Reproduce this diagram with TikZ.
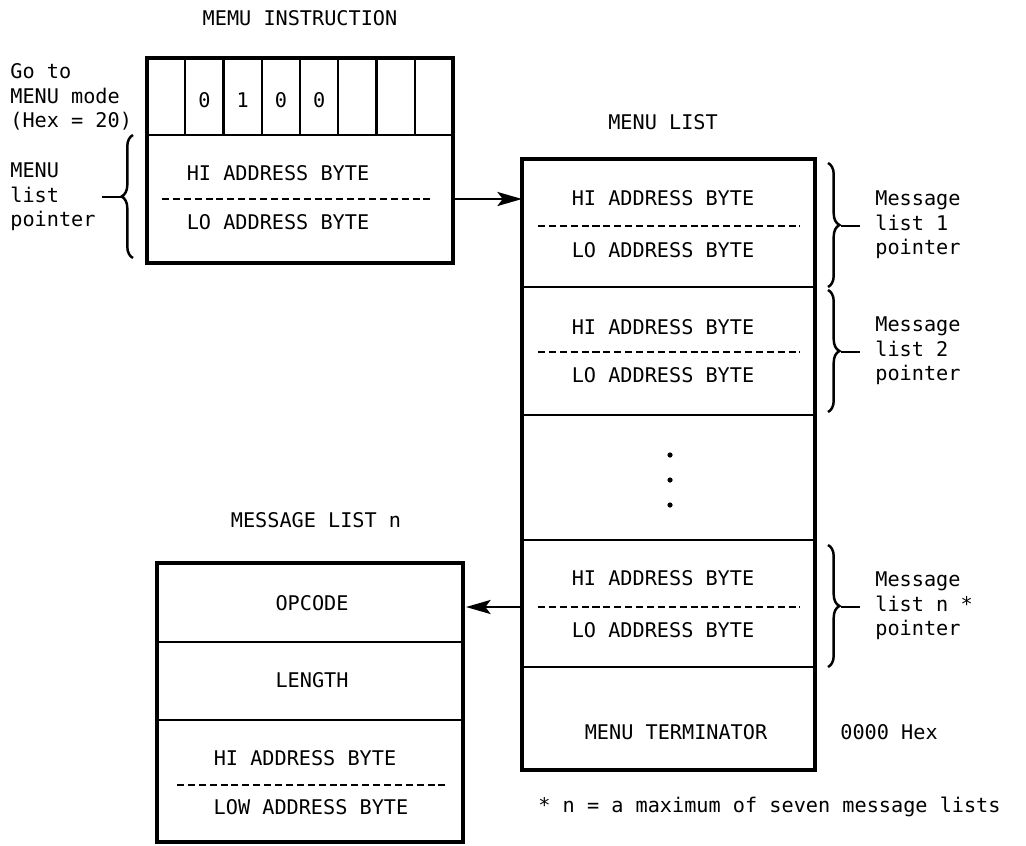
\documentclass[tikz,border=0pt]{standalone}
\usepackage{fontspec}
\setmainfont{DejaVu Sans Mono}
\usetikzlibrary{decorations.pathreplacing, arrows.meta}

\begin{document}
\begin{tikzpicture}[x=0.02cm, y=-0.02cm, >={Stealth[length=14pt, width=8pt, inset=3pt]},
    outer/.style={line width=2.2pt, line join=miter},
    inner/.style={line width=1.5pt},
    bitline/.style={line width=1.2pt},
    sep/.style={line width=1.4pt, dash pattern=on 4pt off 2.2pt},
    txt/.style={inner sep=0pt, font=\fontsize{11.5}{14}\selectfont},
    lbl/.style={txt, align=left, anchor=west},
    brc/.style={decorate, decoration={brace, amplitude=6.5pt}, line width=1.4pt}]
    \useasboundingbox (0,0) rectangle (1026,845);

    % MEMU instruction
    \node[txt] (instrtitle) at (300,18) {MEMU INSTRUCTION};
    \draw[outer] (147,58) rectangle (453,263);
    \draw[inner] (147,135) -- (453,135);
    \foreach \i in {1,...,7}
        \draw[bitline] ({147+38.25*\i},58) -- ({147+38.25*\i},135);
    \foreach \d [count=\i] in {0,1,0,0}
        \node[txt] (bit\i) at ({147+38.25*(\i+0.5)},100) {\d};
    \node[txt] (inshi) at (278,173) {HI ADDRESS BYTE};
    \draw[sep] (162,199) -- (433,199);
    \node[txt] (inslo) at (278,222) {LO ADDRESS BYTE};
    \node[lbl] (golbl) at (10,97) {Go to\\MENU mode\\(Hex = 20)};
    \node[lbl] (ptrlbl) at (10,197) {MENU\\list\\pointer};
    \draw[brc] (133,258) -- (133,135);
    \draw[line width=1.4pt] (121,197) -- (102,197);

    % MENU list
    \node[txt] (listtitle) at (663,122) {MENU LIST};
    \draw[outer] (522,159) rectangle (815,770);
    \foreach \y in {287,415,540,667}
        \draw[inner] (522,\y) -- (815,\y);
    \foreach \y/\n in {198/1,327/2,578/n}
        \node[txt] (lhi\n) at (663,\y) {HI ADDRESS BYTE};
    \foreach \y/\n in {250/1,375/2,630/n}
        \node[txt] (llo\n) at (663,\y) {LO ADDRESS BYTE};
    \foreach \y in {226,352,607}
        \draw[sep] (538,\y) -- (800,\y);
    \foreach \y in {455,480,505}
        \fill (670,\y) circle (2.6);
    \node[txt] (term) at (676,732) {MENU TERMINATOR};
    \node[lbl] (termhex) at (840,732) {0000 Hex};

    % pointer braces
    \draw[brc] (828,163) -- (828,287);
    \draw[brc] (828,290) -- (828,412);
    \draw[brc] (828,545) -- (828,667);
    \foreach \y in {226,352,607}
        \draw[line width=1.4pt] (841,\y) -- (860,\y);
    \node[lbl] (msg1) at (875,225) {Message\\list 1\\pointer};
    \node[lbl] (msg2) at (875,351) {Message\\list 2\\pointer};
    \node[lbl] (msgn) at (875,606) {Message\\list n *\\pointer};
    \node[lbl] (note) at (538,807) {* n = a maximum of seven message lists};

    % MESSAGE list n
    \node[txt] (msgtitle) at (316,520) {MESSAGE LIST n};
    \draw[outer] (157,563) rectangle (463,842);
    \draw[inner] (157,642) -- (463,642);
    \draw[inner] (157,720) -- (463,720);
    \node[txt] (opc) at (312,603) {OPCODE};
    \node[txt] (len) at (312,680) {LENGTH};
    \node[txt] (mhi) at (305,758) {HI ADDRESS BYTE};
    \draw[sep] (177,785) -- (448,785);
    \node[txt] (mlo) at (311,807) {LOW ADDRESS BYTE};

    % connectors
    \coordinate (insout) at (453,199);
    \coordinate (listin) at (522,199);
    \coordinate (listout) at (522,607);
    \coordinate (msgin) at (466,607);
    \draw[line width=1.4pt, ->] (insout) -- (listin);
    \draw[line width=1.4pt, ->] (listout) -- (msgin);
\end{tikzpicture}
\end{document}
